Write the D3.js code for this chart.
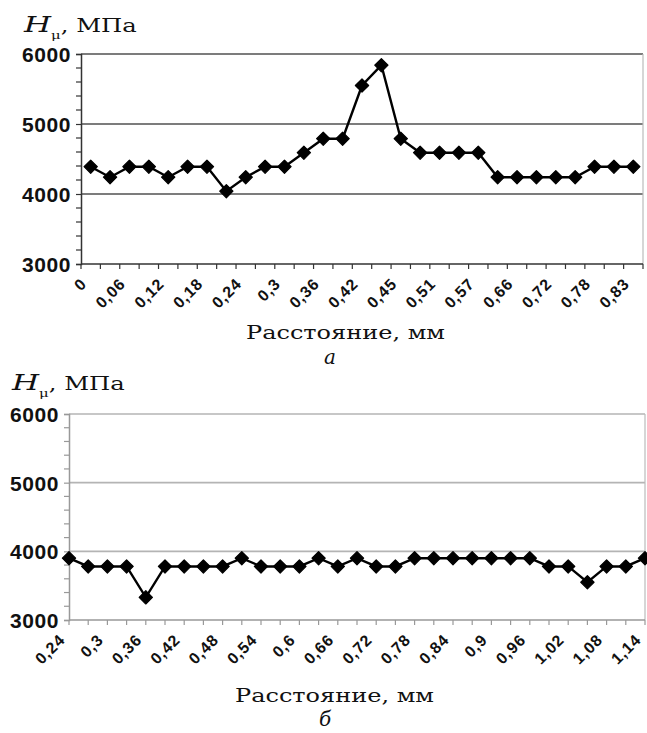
<!DOCTYPE html>
<html lang="ru">
<head>
  <meta charset="UTF-8">
  <title>Микротвердость</title>
  <script src="https://d3js.org/d3.v7.min.js"></script>
  <style>
    body { margin: 0; background: #fff; }
    .tick-label { font-family: "Liberation Sans", Arial, sans-serif; font-weight: bold; fill: #111; }
    .serif { font-family: "DejaVu Serif", serif; fill: #111; }
  </style>
</head>
<body>
<svg id="chart" width="647" height="733"></svg>
<script>
  // chart a: 29 points, labels on every second category
  const topLabels = ["0", "0,06", "0,12", "0,18", "0,24", "0,3", "0,36", "0,42",
    "0,45", "0,51", "0,57", "0,66", "0,72", "0,78", "0,83"];
  const topValues = [4390, 4240, 4390, 4390, 4240, 4390, 4390, 4040, 4240, 4390,
    4390, 4590, 4790, 4790, 5550, 5840, 4790, 4590, 4590, 4590,
    4590, 4240, 4240, 4240, 4240, 4240, 4390, 4390, 4390];

  // chart б: 31 points
  const bottomLabels = ["0,24", "0,3", "0,36", "0,42", "0,48", "0,54", "0,6", "0,66",
    "0,72", "0,78", "0,84", "0,9", "0,96", "1,02", "1,08", "1,14"];
  const bottomValues = [3900, 3780, 3780, 3780, 3330, 3780, 3780, 3780, 3780, 3900,
    3780, 3780, 3780, 3900, 3780, 3900, 3780, 3780, 3900, 3900,
    3900, 3900, 3900, 3900, 3900, 3780, 3780, 3550, 3780, 3780, 3900];

  const yMajor = [3000, 4000, 5000, 6000];

  const svg = d3.select("#chart");

  function drawChart(opt) {
    const g = svg.append("g");
    const n = opt.values.length;
    const idx = d3.range(n);

    const y = d3.scaleLinear().domain([3000, 6000]).range([opt.bottom, opt.top]);

    // x position of each point and of the category ticks
    let px, tickXs;
    if (opt.between) {
      const xb = d3.scaleBand().domain(idx).range([opt.left, opt.right]);
      px = i => xb(i) + xb.bandwidth() / 2;
      tickXs = idx.map(i => xb(i)).concat([opt.right]);
    } else {
      const xp = d3.scalePoint().domain(idx).range([opt.left, opt.right]);
      px = i => xp(i);
      tickXs = idx.map(i => xp(i));
    }

    // gridlines
    g.selectAll(".grid").data(yMajor.slice(1)).enter().append("line")
      .attr("x1", opt.left).attr("x2", opt.right)
      .attr("y1", d => y(d)).attr("y2", d => y(d))
      .attr("stroke", opt.gridColor).attr("stroke-width", 1.6);

    // right border
    g.append("line")
      .attr("x1", opt.right).attr("x2", opt.right)
      .attr("y1", opt.top).attr("y2", opt.bottom)
      .attr("stroke", "#bbb").attr("stroke-width", 1.2);

    // y axis
    const yAxis = d3.axisLeft(y).tickValues(yMajor).tickSize(5).tickPadding(5)
      .tickFormat(d3.format("d"));
    const ya = g.append("g").attr("transform", `translate(${opt.left},0)`).call(yAxis);
    ya.select(".domain").attr("stroke", opt.axisColor).attr("stroke-width", 1.5);
    ya.selectAll(".tick line").attr("stroke", opt.axisColor).attr("stroke-width", 1.2);
    ya.selectAll(".tick text").attr("class", "tick-label")
      .attr("font-size", 21).attr("dy", "0.36em").style("letter-spacing", "0.6px");

    // minor y ticks
    const minor = d3.range(3200, 6000, 200).filter(v => v % 1000 !== 0);
    g.selectAll(".minor").data(minor).enter().append("line")
      .attr("x1", opt.left - 5).attr("x2", opt.left)
      .attr("y1", d => y(d)).attr("y2", d => y(d))
      .attr("stroke", opt.axisColor).attr("stroke-width", 1.2);

    // x axis line and ticks
    g.append("line")
      .attr("x1", opt.left).attr("x2", opt.right)
      .attr("y1", opt.bottom).attr("y2", opt.bottom)
      .attr("stroke", opt.axisColor).attr("stroke-width", 1.5);
    g.selectAll(".xtick").data(tickXs).enter().append("line")
      .attr("x1", d => d).attr("x2", d => d)
      .attr("y1", opt.bottom).attr("y2", opt.bottom + 5)
      .attr("stroke", opt.axisColor).attr("stroke-width", 1.2);

    // x labels on every second category
    g.selectAll(".xlab").data(opt.labels).enter().append("text")
      .attr("class", "tick-label")
      .style("font-size", "16px").style("letter-spacing", "0.8px")
      .attr("text-anchor", "end")
      .attr("transform", (d, i) => `translate(${px(i * 2) - 3},${opt.bottom + 21}) rotate(-45)`)
      .text(d => d);

    // line + markers
    const line = d3.line().x((d, i) => px(i)).y(d => y(d));
    g.append("path").datum(opt.values)
      .attr("d", line).attr("fill", "none")
      .attr("stroke", "#000").attr("stroke-width", 2.4);

    const sym = d3.symbol(d3.symbolSquare, 88);
    g.selectAll(".pt").data(opt.values).enter().append("path")
      .attr("d", sym)
      .attr("transform", (d, i) => `translate(${px(i)},${y(d)}) rotate(45)`)
      .attr("fill", "#000").attr("stroke", "#000").attr("stroke-width", 1.2)
      .attr("stroke-linejoin", "round");

    // y title: H_μ, МПа
    const yt = g.append("text").attr("class", "serif")
      .attr("transform", `translate(${opt.titleX},${opt.titleY}) scale(1.35,1)`);
    yt.append("tspan").attr("font-style", "italic").attr("font-size", 23).text("H");
    yt.append("tspan").attr("font-size", 11).attr("dy", 7).text("μ");
    yt.append("tspan").attr("font-size", 18).attr("dy", -7).text(", МПа");

    // x title and panel letter
    g.append("text").attr("class", "serif")
      .attr("x", opt.xTitleX).attr("y", opt.xTitleY)
      .attr("font-size", 19)
      .attr("textLength", 199).attr("lengthAdjust", "spacingAndGlyphs")
      .text("Расстояние, мм");
    g.append("text").attr("class", "serif")
      .attr("x", opt.letterX).attr("y", opt.letterY)
      .attr("font-size", 20).attr("font-style", "italic")
      .attr("text-anchor", "middle")
      .text(opt.letter);
  }

  drawChart({
    values: topValues, labels: topLabels, between: true,
    left: 81, right: 643, top: 54, bottom: 264,
    gridColor: "#505050", axisColor: "#333",
    titleX: 24, titleY: 32,
    xTitleX: 246, xTitleY: 339,
    letterX: 330, letterY: 364, letter: "а"
  });

  drawChart({
    values: bottomValues, labels: bottomLabels, between: false,
    left: 69, right: 645, top: 414, bottom: 620,
    gridColor: "#b4b4b4", axisColor: "#999",
    titleX: 12, titleY: 390,
    xTitleX: 235, xTitleY: 702,
    letterX: 325, letterY: 726, letter: "б"
  });
</script>
</body>
</html>
